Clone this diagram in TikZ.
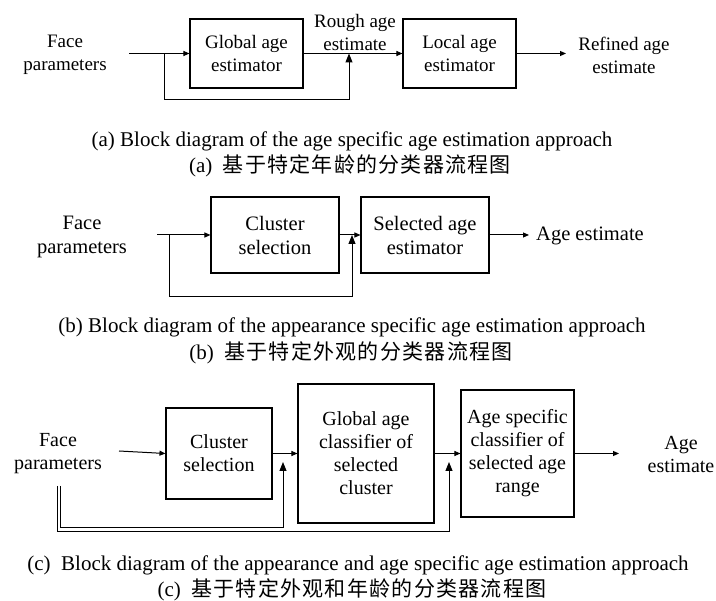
\documentclass[tikz,border=0pt]{standalone}
\usepackage{fontspec}
\setmainfont{Liberation Serif}
\newfontfamily\cjk[LetterSpace=6]{Noto Sans CJK SC}
\usetikzlibrary{arrows.meta}
\begin{document}
\begin{tikzpicture}[x=1pt,y=-1pt]
\tikzset{
  blk/.style={draw, line width=1.1pt, inner sep=0pt, align=center},
  lbl/.style={inner sep=0pt, align=center},
  fa/.style={font=\fontsize{19}{23}\selectfont},
  fb/.style={font=\fontsize{20.5}{24}\selectfont},
  fc/.style={font=\fontsize{20}{23}\selectfont},
  captext/.style={inner sep=0pt, font=\fontsize{21}{25}\selectfont},
  wire/.style={line width=1pt},
  arr/.style={wire, -{Triangle[length=6pt,width=5pt]}},
  uparr/.style={wire, -{Triangle[length=9pt,width=7pt]}},
}
\useasboundingbox[fill=white] (0,0) rectangle (716,601);

% ---- (a) age specific estimation
\node[lbl,fa] (faceA) at (65,55) {Face\\parameters};
\node[blk,fa,minimum width=113,minimum height=69] (globA) at (246.5,53.5) {Global age\\estimator};
\node[lbl,fa] (roughA) at (355,33) {Rough age\\estimate};
\node[blk,fa,minimum width=113,minimum height=69] (locA) at (459.5,53.5) {Local age\\estimator};
\node[lbl,fa] (refA) at (624,55) {Refined age\\estimate};
\coordinate (inA) at (129,53.5);
\coordinate (brA) at (164,53.5);
\coordinate (lowA) at (349,100);
\coordinate (joinA) at (349,53.5);
\coordinate (outA) at (566,53.5);
\draw[arr] (inA) -- (globA.west);
\draw[arr] (globA.east) -- (locA.west);
\draw[arr] (locA.east) -- (outA);
\draw[uparr] (brA) |- (lowA) -- (joinA);

% ---- (b) appearance specific estimation
\node[lbl,fb] (faceB) at (82,237) {Face\\parameters};
\node[blk,fb,minimum width=128,minimum height=76] (clusB) at (275,235) {Cluster\\selection};
\node[blk,fb,minimum width=128,minimum height=76] (selB) at (425,235) {Selected age\\estimator};
\node[lbl,fb,anchor=west] (ageB) at (536,236) {Age estimate};
\coordinate (inB) at (157,235);
\coordinate (brB) at (169,235);
\coordinate (lowB) at (352,297);
\coordinate (joinB) at (352,235);
\coordinate (outB) at (529,235);
\draw[arr] (inB) -- (clusB.west);
\draw[arr] (clusB.east) -- (selB.west);
\draw[arr] (selB.east) -- (outB);
\draw[uparr] (brB) |- (lowB) -- (joinB);

% ---- (c) appearance and age specific estimation
\node[lbl,fc] (faceC) at (58,454) {Face\\parameters};
\node[blk,fc,minimum width=106,minimum height=91] (clusC) at (219,453.5) {Cluster\\selection};
\node[blk,fc,minimum width=136,minimum height=139] (globC) at (366,453.5) {Global age\\classifier of\\selected\\cluster};
\node[blk,fc,minimum width=113,minimum height=127] (specC) at (517.5,453.5) {Age specific\\classifier of\\selected age\\range};
\node[lbl,fc] (ageC) at (681,454) {Age\\estimate};
\coordinate (inC) at (119,451);
\coordinate (outC) at (619,453.5);
\draw[arr] (inC) -- (clusC.west);
\draw[arr] (clusC.east) -- (globC.west);
\draw[arr] (globC.east) -- (specC.west);
\draw[arr] (specC.east) -- (outC);
\coordinate (dn1) at (60.5,486);
\coordinate (low1) at (283,528);
\coordinate (up1) at (283,462);
\coordinate (dn2) at (57.5,486);
\coordinate (low2) at (449,532);
\coordinate (up2) at (449,462);
\draw[uparr] (dn1) |- (low1) -- (up1);
\draw[uparr] (dn2) |- (low2) -- (up2);

% ---- captions
\node[captext] (capA) at (352,141) {(a) Block diagram of the age specific age estimation approach};
\node[captext] (capAc) at (350,166) {(a)\hspace{0.5em}{\cjk 基于特定年龄的分类器流程图}};
\node[captext] (capB) at (352,327) {(b) Block diagram of the appearance specific age estimation approach};
\node[captext] (capBc) at (351,353) {(b)\hspace{0.5em}{\cjk 基于特定外观的分类器流程图}};
\node[captext] (capC) at (358,565) {(c)\hspace{0.5em}Block diagram of the appearance and age specific age estimation approach};
\node[captext] (capCc) at (352,590) {(c)\hspace{0.5em}{\cjk 基于特定外观和年龄的分类器流程图}};
\end{tikzpicture}
\end{document}
